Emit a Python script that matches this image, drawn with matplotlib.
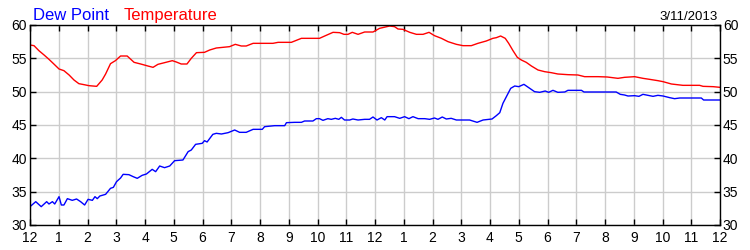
import matplotlib
matplotlib.use("Agg")
import matplotlib.pyplot as plt

# Temperature (hour of day, degrees F)
temp_hours = [0.00, 0.14, 0.31, 0.49, 0.66, 0.83, 1.01, 1.18, 1.36, 1.53, 1.70, 1.88, 2.05, 2.32, 2.51,
              2.63, 2.80, 2.97, 3.15, 3.38, 3.62, 3.85, 4.06, 4.10, 4.28, 4.45, 4.68, 4.95, 5.09,
              5.26, 5.46, 5.61, 5.79, 6.07, 6.25, 6.48, 6.71, 6.94, 7.14, 7.35, 7.52, 7.76, 8.08,
              8.45, 8.63, 9.09, 9.44, 10.07, 10.25, 10.54, 10.77, 10.92, 11.06, 11.21, 11.41, 11.64,
              11.93, 12.16, 12.51, 12.68, 12.80, 12.97, 13.21, 13.44, 13.67, 13.88, 14.07, 14.31,
              14.54, 14.83, 15.06, 15.35, 15.58, 15.87, 16.10, 16.22, 16.37, 16.53, 16.65, 16.80,
              16.95, 17.09, 17.26, 17.44, 17.67, 17.90, 18.13, 18.36, 18.71, 19.06, 19.29, 19.76,
              20.08, 20.45, 20.68, 21.03, 21.32, 21.55, 21.84, 22.02, 22.31, 22.71, 23.29, 23.41,
              23.76, 24.00]
temp_values = [57.0, 56.9, 56.15, 55.5, 54.85, 54.15, 53.4, 53.15, 52.5, 51.75, 51.2, 51.05, 50.9, 50.8, 51.75,
               52.65, 54.2, 54.65, 55.35, 55.35, 54.4, 54.15, 53.9, 53.85, 53.65, 54.1, 54.35, 54.65, 54.45,
               54.15, 54.15, 55.0, 55.85, 55.9, 56.25, 56.55, 56.65, 56.75, 57.1, 56.85, 56.85, 57.25, 57.25,
               57.25, 57.4, 57.4, 58.0, 58.0, 58.35, 58.9, 58.85, 58.6, 58.6, 58.9, 58.6, 58.95,
               58.95, 59.5, 59.85, 59.75, 59.4, 59.35, 58.9, 58.6, 58.6, 58.9, 58.4, 58.0,
               57.5, 57.1, 56.9, 56.9, 57.25, 57.6, 58.0, 58.1, 58.35, 58.0, 57.25, 56.15,
               55.15, 54.75, 54.4, 53.85, 53.25, 53.0, 52.85, 52.65, 52.55, 52.5, 52.25, 52.25,
               52.2, 52.0, 52.15, 52.25, 52.0, 51.85, 51.65, 51.5, 51.15, 50.95, 50.95, 50.8,
               50.75, 50.65]

# Dew point (hour of day, degrees F)
dew_hours = [0.00, 0.20, 0.39, 0.58, 0.66, 0.78, 0.86, 1.01, 1.09, 1.18, 1.30, 1.47, 1.62, 1.76, 1.90,
             2.02, 2.17, 2.26, 2.34, 2.43, 2.63, 2.80, 2.90, 3.01, 3.15, 3.24, 3.44, 3.59, 3.73, 3.90,
             4.05, 4.25, 4.37, 4.51, 4.68, 4.86, 5.03, 5.32, 5.50, 5.61, 5.76, 5.99, 6.07, 6.16,
             6.36, 6.48, 6.66, 6.89, 7.12, 7.29, 7.52, 7.76, 8.08, 8.16, 8.51, 8.86, 8.92, 9.21,
             9.44, 9.55, 9.84, 9.96, 10.07, 10.19, 10.36, 10.48, 10.62, 10.74, 10.83, 10.94, 11.12,
             11.23, 11.41, 11.64, 11.81, 11.93, 12.07, 12.22, 12.34, 12.42, 12.68, 12.86, 13.03,
             13.18, 13.32, 13.50, 13.73, 13.90, 14.07, 14.19, 14.34, 14.48, 14.65, 14.83, 15.29,
             15.55, 15.76, 16.07, 16.22, 16.34, 16.45, 16.60, 16.72, 16.86, 17.00, 17.18, 17.38,
             17.55, 17.73, 17.92, 18.04, 18.19, 18.36, 18.60, 18.71, 19.18, 19.27, 20.39, 20.53,
             20.68, 20.80, 21.03, 21.18, 21.32, 21.50, 21.67, 21.84, 22.02, 22.25, 22.42, 22.60,
             23.35, 23.43, 24.00]
dew_values = [32.75, 33.5, 32.75, 33.5, 33.15, 33.5, 33.15, 34.25, 33.0, 33.0, 33.95, 33.7, 33.9, 33.5, 33.0,
              33.85, 33.7, 34.25, 33.95, 34.35, 34.6, 35.5, 35.65, 36.5, 37.05, 37.6, 37.55, 37.25, 37.0, 37.45,
              37.65, 38.35, 38.0, 38.85, 38.6, 38.85, 39.65, 39.75, 41.0, 41.25, 42.1, 42.25, 42.65, 42.45,
              43.6, 43.75, 43.65, 43.85, 44.25, 43.9, 43.9, 44.35, 44.35, 44.75, 44.9, 44.9, 45.35, 45.4,
              45.4, 45.6, 45.6, 45.95, 45.95, 45.7, 45.95, 45.85, 46.0, 45.85, 46.15, 45.75, 45.75,
              45.9, 45.75, 45.85, 45.85, 46.2, 45.75, 46.1, 45.75, 46.25, 46.25, 46.0, 46.25,
              45.95, 46.25, 45.95, 45.95, 45.85, 46.05, 45.85, 46.2, 45.9, 46.0, 45.75, 45.75,
              45.4, 45.75, 45.9, 46.4, 46.85, 48.25, 49.5, 50.5, 50.85, 50.75, 51.1, 50.5,
              50.0, 49.9, 50.1, 49.9, 50.2, 49.9, 49.95, 50.2, 50.2, 49.95, 49.95, 49.6,
              49.5, 49.35, 49.4, 49.3, 49.6, 49.45, 49.3, 49.45, 49.35, 49.1, 48.95, 49.05,
              49.05, 48.75, 48.75]

hour_ticks = list(range(25))
hour_labels = ["12", "1", "2", "3", "4", "5", "6", "7", "8", "9", "10", "11",
               "12", "1", "2", "3", "4", "5", "6", "7", "8", "9", "10", "11", "12"]
y_ticks = [30, 35, 40, 45, 50, 55, 60]
date_label = "3/11/2013"

plt.rcParams['font.family'] = ['Liberation Sans', 'DejaVu Sans']

fig = plt.figure(figsize=(7.5, 2.5), dpi=100)
ax = fig.add_axes([30 / 750, 1 - 225 / 250, 690 / 750, 200 / 250])

ax.plot(temp_hours, temp_values, color='#ff0000', linewidth=1.0)
ax.plot(dew_hours, dew_values, color='#0000ff', linewidth=1.0)

ax.set_xlim(0, 24)
ax.set_ylim(30, 60)
ax.set_xticks(hour_ticks)
ax.set_xticklabels(hour_labels)
ax.set_yticks(y_ticks)
ax.grid(True, color='#cccccc', linewidth=1.0)
ax.set_axisbelow(True)

ax.tick_params(axis='x', direction='in', length=4, width=1, top=True, bottom=True,
               labelsize=10, pad=4, colors='black')
ax.tick_params(axis='y', direction='in', length=4, width=1, left=True, right=True,
               labelleft=True, labelright=True, labelsize=10, pad=2, colors='black')
for s in ax.spines.values():
    s.set_color('black')
    s.set_linewidth(1.0)

fig.text(33 / 750, 1 - 20 / 250, "Dew Point", color='#0000ff', fontsize=12, ha='left', va='baseline')
fig.text(124 / 750, 1 - 20 / 250, "Temperature", color='#ff0000', fontsize=12, ha='left', va='baseline')
fig.text(718 / 750, 1 - 20 / 250, date_label, color='black', fontsize=9.5, ha='right', va='baseline')

fig.savefig("out.png", dpi=100)
